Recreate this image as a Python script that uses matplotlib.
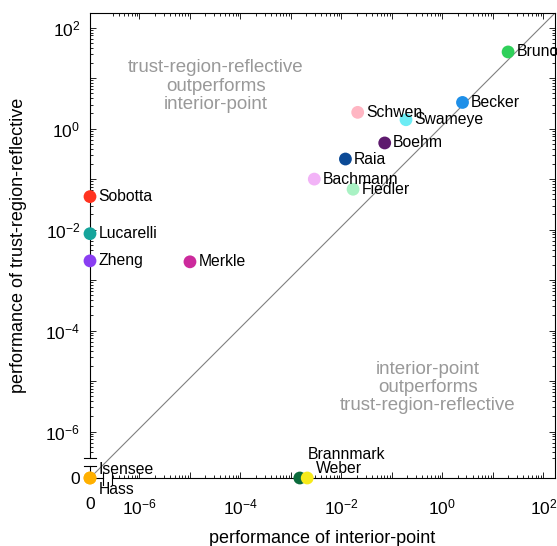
import numpy as np
import matplotlib.pyplot as plt

plt.rcParams['font.family'] = ['Liberation Sans', 'DejaVu Sans']
plt.rcParams['mathtext.fontset'] = 'custom'
plt.rcParams['mathtext.rm'] = 'Liberation Sans'
plt.rcParams['mathtext.default'] = 'regular'

# performance per model (0 = exact zero, drawn on the axis break)
models = ['Bachmann', 'Becker', 'Boehm', 'Brannmark', 'Bruno', 'Fiedler',
          'Isensee', 'Hass', 'Lucarelli', 'Merkle', 'Raia', 'Schwen',
          'Sobotta', 'Swameye', 'Weber', 'Zheng']
ip_perf = [2.9e-3, 2.5, 0.072, 1.5e-3, 20.0, 0.017,
           0, 0, 0, 1.0e-5, 0.012, 0.021,
           0, 0.19, 2.1e-3, 0]
trf_perf = [0.10, 3.3, 0.52, 0, 33.0, 0.063,
            0, 0, 8.3e-3, 2.3e-3, 0.25, 2.1,
            0.045, 1.5, 0, 2.4e-3]
colors = ['#f2b3f7', '#1e8fe8', '#5e1a6e', '#0b6b3c', '#2fd05a', '#a9f2c4',
          '#ffb000', '#ffb000', '#16a49b', '#cc2a9c', '#0c4a96', '#ffb6c3',
          '#ff3320', '#6cecf4', '#f7ea1a', '#8a3ef2']
# label offsets in points (default: right of marker)
offsets = {'Isensee': (6, 6), 'Hass': (6, -8), 'Brannmark': (6, 17),
           'Weber': (6, 6.5)}

x_lim = (10**-6.98, 10**2.23)
y_lim = (10**-6.92, 10**2.29)

fig = plt.figure(figsize=(5.57, 5.46), dpi=100)
ax = fig.add_axes([90/557, 68/546, 465/557, 465/546])
ax.set_xscale('log')
ax.set_yscale('log')

# ticks: a "0" tick on the break, decades above it
decades = list(range(-6, 3))
xt = [x_lim[0]] + [10.0**d for d in decades]
yt = [y_lim[0]] + [10.0**d for d in decades]
tl = ['0'] + ['$10^{%d}$' % d if d % 2 == 0 else '' for d in decades]
ax.set_xticks(xt, tl)
ax.set_yticks(yt, tl)
minor = [k * 10.0**d for d in range(-7, 3) for k in range(2, 10)
         if 3e-7 <= k * 10.0**d <= 10**2.2]
ax.set_xticks(minor, minor=True)
ax.set_yticks(minor, minor=True)
ax.set_xlim(x_lim)
ax.set_ylim(y_lim)
ax.tick_params(which='both', direction='in', top=True, right=True, width=0.6)
ax.tick_params(which='major', length=4, labelsize=12.5)
ax.tick_params(which='minor', length=2)
ax.tick_params(axis='x', pad=14)
ax.tick_params(axis='y', pad=7)

# diagonal
ax.plot([0, 1], [0, 1], transform=ax.transAxes, color='0.5', lw=0.8, zorder=1)

for name, xv, yv, c in zip(models, ip_perf, trf_perf, colors):
    px = xv if xv > 0 else x_lim[0]
    py = yv if yv > 0 else y_lim[0]
    ax.scatter(px, py, s=85, color=c, edgecolors='none', zorder=3, clip_on=False)
    ax.annotate(name, (px, py), xytext=offsets.get(name, (6, 0)),
                textcoords='offset points', ha='left', va='center',
                fontsize=11.3, zorder=4, annotation_clip=False)

ax.text(0.271, 0.843, 'trust-region-reflective\noutperforms\ninterior-point',
        transform=ax.transAxes, ha='center', va='center', color='0.6',
        fontsize=13.5, linespacing=1.08)
ax.text(0.727, 0.194, 'interior-point\noutperforms\ntrust-region-reflective',
        transform=ax.transAxes, ha='center', va='center', color='0.6',
        fontsize=13.5, linespacing=1.08)

# broken left/bottom axes
ax.spines['left'].set_visible(False)
ax.spines['bottom'].set_visible(False)
for sp in ['top', 'right']:
    ax.spines[sp].set_linewidth(0.8)
kw = dict(transform=ax.transAxes, color='k', lw=0.8, clip_on=False, zorder=2)
ax.plot([0, 0], [0, 0.026], **kw)
ax.plot([0, 0], [0.043, 1], **kw)
ax.plot([-0.013, 0.013], [0.026, 0.026], **kw)
ax.plot([-0.013, 0.013], [0.043, 0.043], **kw)
ax.plot([0, 0.029], [0, 0], **kw)
ax.plot([0.047, 1], [0, 0], **kw)
ax.plot([0.029, 0.029], [-0.015, 0.011], **kw)
ax.plot([0.047, 0.047], [-0.015, 0.011], **kw)

ax.set_xlim(x_lim)
ax.set_ylim(y_lim)
ax.set_xlabel('performance of interior-point', fontsize=13, labelpad=9)
ax.set_ylabel('performance of trust-region-reflective', fontsize=13, labelpad=13)

fig.savefig('out.png', dpi=100)
